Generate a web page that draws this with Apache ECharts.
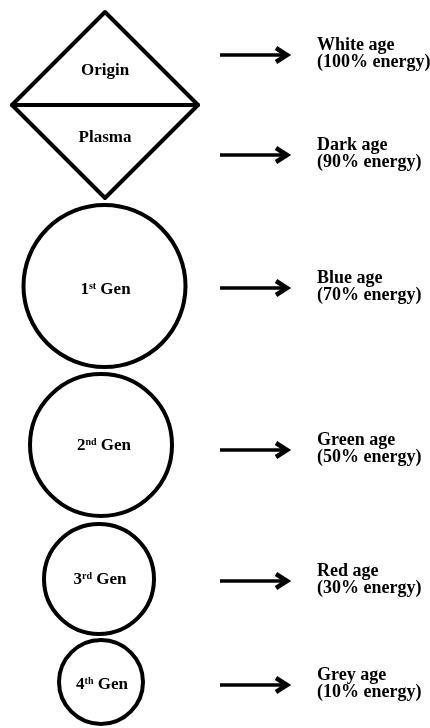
<!DOCTYPE html>
<html>
<head>
<meta charset="utf-8">
<script src="https://cdn.jsdelivr.net/npm/echarts@6/dist/echarts.min.js"></script>
<style>
html,body{margin:0;padding:0;background:#fff;}
#main{width:430px;height:728px;}
</style>
</head>
<body>
<div id="main"></div>
<script>
// 阶段名称
var topStages = ['Origin', 'Plasma'];
var genNum = ['1', '2', '3', '4'];
var genSuffix = ['st', 'nd', 'rd', 'th'];
// 右侧文字
var ageNames = ['White age', 'Dark age', 'Blue age', 'Green age', 'Red age', 'Grey age'];
var energyPct = [100, 90, 70, 50, 30, 10];
// 箭头所在行 (y 轴单位)
var rowY = [55, 155, 288, 450, 581, 685];
// 菱形: 中心x, 中心y, 半径
var diamond = [105, 105, 93];
var topLabelY = [71, 138];
// 圆: 中心x, 中心y, 半径
var genX = [104.5, 101, 99, 101];
var genY = [286, 445, 579, 682];
var genR = [81, 71, 55, 42];
var genLabelY = [290, 446, 580, 685];
// 箭头起止
var arrowFrom = 220, arrowTo = 287;
var textX = 317;

var chart = echarts.init(document.getElementById('main'));
var serif = '"Liberation Serif", "Times New Roman", serif';
var ink = '#000';

var circleData = genX.map(function (x, i) { return [x, genY[i], genR[i]]; });
var arrowData = rowY.map(function (y) { return [arrowFrom, y, arrowTo]; });
var ageData = rowY.map(function (y, i) {
    return { value: [textX, y - 1], name: ageNames[i] + '\n(' + energyPct[i] + '% energy)' };
});
var stageData = topStages.map(function (s, i) {
    return { value: [diamond[0], topLabelY[i]], name: '{b|' + s + '}' };
}).concat(genNum.map(function (n, i) {
    return { value: [genX[i] + (i == 1 ? 3 : 1), genLabelY[i]], name: '{b|' + n + '}{s|' + genSuffix[i] + '}{b| Gen}' };
}));

option = {
    animation: false,
    grid: { left: 0, right: 0, top: 0, bottom: 0 },
    xAxis: { type: 'value', min: 0, max: 430, show: false },
    yAxis: { type: 'value', min: 0, max: 728, inverse: true, show: false },
    series: [
        {
            //菱形
            type: 'custom',
            data: [diamond],
            renderItem: function (params, api) {
                var cx = api.value(0), cy = api.value(1), h = api.value(2);
                var t = api.coord([cx, cy - h]);
                var r = api.coord([cx + h, cy]);
                var b = api.coord([cx, cy + h]);
                var l = api.coord([cx - h, cy]);
                return {
                    type: 'group',
                    children: [{
                        type: 'polygon',
                        shape: { points: [t, r, b, l] },
                        style: { fill: 'none', stroke: ink, lineWidth: 4, lineJoin: 'round' }
                    }, {
                        type: 'line',
                        shape: { x1: l[0], y1: l[1], x2: r[0], y2: r[1] },
                        style: { stroke: ink, lineWidth: 4, lineCap: 'round' }
                    }]
                };
            }
        },
        {
            //圆
            type: 'custom',
            data: circleData,
            renderItem: function (params, api) {
                var c = api.coord([api.value(0), api.value(1)]);
                var r = api.size([api.value(2), api.value(2)]);
                return {
                    type: 'circle',
                    shape: { cx: c[0], cy: c[1], r: r[0] },
                    style: { fill: 'none', stroke: ink, lineWidth: 4 }
                };
            }
        },
        {
            //箭头
            type: 'custom',
            data: arrowData,
            renderItem: function (params, api) {
                var a = api.coord([api.value(0), api.value(1)]);
                var b = api.coord([api.value(2), api.value(1)]);
                return {
                    type: 'group',
                    children: [{
                        type: 'line',
                        shape: { x1: a[0], y1: a[1], x2: b[0] - 2, y2: b[1] },
                        style: { stroke: ink, lineWidth: 3.5 }
                    }, {
                        type: 'polyline',
                        shape: { points: [[b[0] - 11, b[1] - 7], [b[0], b[1]], [b[0] - 11, b[1] + 7]] },
                        style: { stroke: ink, lineWidth: 4.5, fill: 'none', lineJoin: 'miter' }
                    }]
                };
            }
        },
        {
            //右侧文字
            type: 'custom',
            data: ageData,
            renderItem: function (params, api) {
                var p = api.coord([api.value(0), api.value(1)]);
                return {
                    type: 'text',
                    x: p[0],
                    y: p[1],
                    style: {
                        text: ageData[params.dataIndex].name,
                        fill: ink,
                        fontFamily: serif,
                        fontWeight: 'bold',
                        fontSize: 18,
                        lineHeight: 17,
                        align: 'left',
                        verticalAlign: 'middle'
                    }
                };
            }
        },
        {
            //阶段文字
            type: 'custom',
            data: stageData,
            renderItem: function (params, api) {
                var p = api.coord([api.value(0), api.value(1)]);
                return {
                    type: 'text',
                    x: p[0],
                    y: p[1],
                    style: {
                        text: stageData[params.dataIndex].name,
                        align: 'center',
                        verticalAlign: 'middle',
                        rich: {
                            b: { fontFamily: serif, fontWeight: 'bold', fontSize: 17, lineHeight: 18, fill: ink },
                            s: { fontFamily: serif, fontWeight: 'bold', fontSize: 10, lineHeight: 10, verticalAlign: 'top', fill: ink }
                        }
                    }
                };
            }
        }
    ]
};
chart.setOption(option);
</script>
</body>
</html>
